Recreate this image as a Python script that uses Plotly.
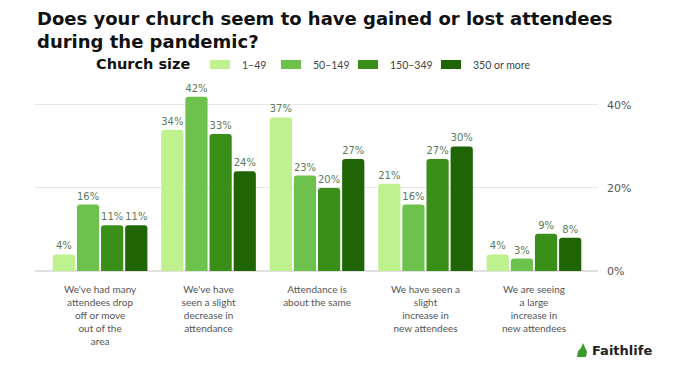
import plotly.graph_objects as go

categories = [
    "We've had many<br>attendees drop<br>off or move<br>out of the<br>area",
    "We've have<br>seen a slight<br>decrease in<br>attendance",
    "Attendance is<br>about the same",
    "We have seen a<br>slight<br>increase in<br>new attendees",
    "We are seeing<br>a large<br>increase in<br>new attendees",
]
series_names = ["1–49", "50–149", "150–349", "350 or more"]
v_1_49 = [4, 34, 37, 21, 4]
v_50_149 = [16, 42, 23, 16, 3]
v_150_349 = [11, 33, 20, 27, 9]
v_350 = [11, 24, 27, 30, 8]
values = [v_1_49, v_50_149, v_150_349, v_350]
colors = ["#bff28e", "#6cc24c", "#3a8f18", "#1f6505"]
tick_vals = [0, 20, 40]
tick_text = ["0%", "20%", "40%"]

L, R, T, B = 35, 82, 90, 94
W, H = 680, 365
PW, PH = W - L - R, H - T - B


def px(x):
    return (x - L) / PW


def py(y):
    return (H - B - y) / PH


fig = go.Figure()
for name, vals, col in zip(series_names, values, colors):
    fig.add_trace(go.Bar(
        x=list(range(len(categories))), y=vals, name=name,
        marker=dict(color=col, line=dict(width=0)),
        text=[f"{v}%" for v in vals], textposition="outside",
        textfont=dict(color="#5b7a5b", size=10, family="DejaVu Sans"),
        cliponaxis=False, showlegend=False,
    ))

fig.update_layout(
    width=W, height=H,
    margin=dict(l=L, r=R, t=T, b=B),
    paper_bgcolor="white", plot_bgcolor="white",
    barmode="group", bargap=0.11, bargroupgap=0.08, barcornerradius=3,
    showlegend=False,
)
fig.update_xaxes(
    tickvals=list(range(len(categories))), ticktext=categories,
    range=[-0.6, 4.59], showgrid=False, zeroline=False,
    showline=False, ticks="", ticklabelstandoff=11,
    tickfont=dict(family="Lato", size=10, color="#555"),
    tickangle=0,
)
fig.update_yaxes(
    side="right", range=[0, 43.6], tickvals=tick_vals, ticktext=tick_text,
    showgrid=True, gridcolor="#e6e6e6", gridwidth=1, zeroline=True,
    zerolinecolor="#e0e0e0", ticks="", ticklabelstandoff=8,
    tickfont=dict(family="DejaVu Sans", size=11, color="#555"),
)

# Title
fig.add_annotation(
    text="<b>Does your church seem to have gained or lost attendees<br>during the pandemic?</b>",
    xref="paper", yref="paper", x=px(35), y=py(6), xanchor="left", yanchor="top",
    align="left", showarrow=False,
    font=dict(family="DejaVu Sans", size=18, color="#111111"),
)

# Manual legend
fig.add_annotation(
    text="<b>Church size</b>", xref="paper", yref="paper",
    x=px(94), y=py(64), xanchor="left", yanchor="middle", showarrow=False,
    font=dict(family="DejaVu Sans", size=14.5, color="#111"),
)
sw_left = [210, 281, 358, 441]
for name, col, sx in zip(series_names, colors, sw_left):
    fig.add_shape(
        type="rect", xref="paper", yref="paper",
        x0=px(sx), x1=px(sx + 20), y0=py(69), y1=py(60),
        fillcolor=col, line=dict(width=0),
    )
    fig.add_annotation(
        text=name, xref="paper", yref="paper",
        x=px(sx + 30), y=py(64.5), xanchor="left", yanchor="middle",
        showarrow=False, font=dict(family="Lato", size=10.5, color="#444"),
    )

# Faithlife logo
fig.add_annotation(
    text="<b>Faithlife</b>", xref="paper", yref="paper",
    x=px(590), y=py(350), xanchor="left", yanchor="middle", showarrow=False,
    font=dict(family="DejaVu Sans", size=13, color="#222"),
)
fig.add_shape(
    type="path", xref="paper", yref="paper",
    path=(f"M {px(577)},{py(357)} L {px(586)},{py(357)} L {px(587)},{py(352)} "
          f"L {px(583)},{py(343)} L {px(581)},{py(348)} L {px(578)},{py(351)} Z"),
    fillcolor="#3a9a2a", line=dict(width=0),
)
fig.write_html("out.html")
